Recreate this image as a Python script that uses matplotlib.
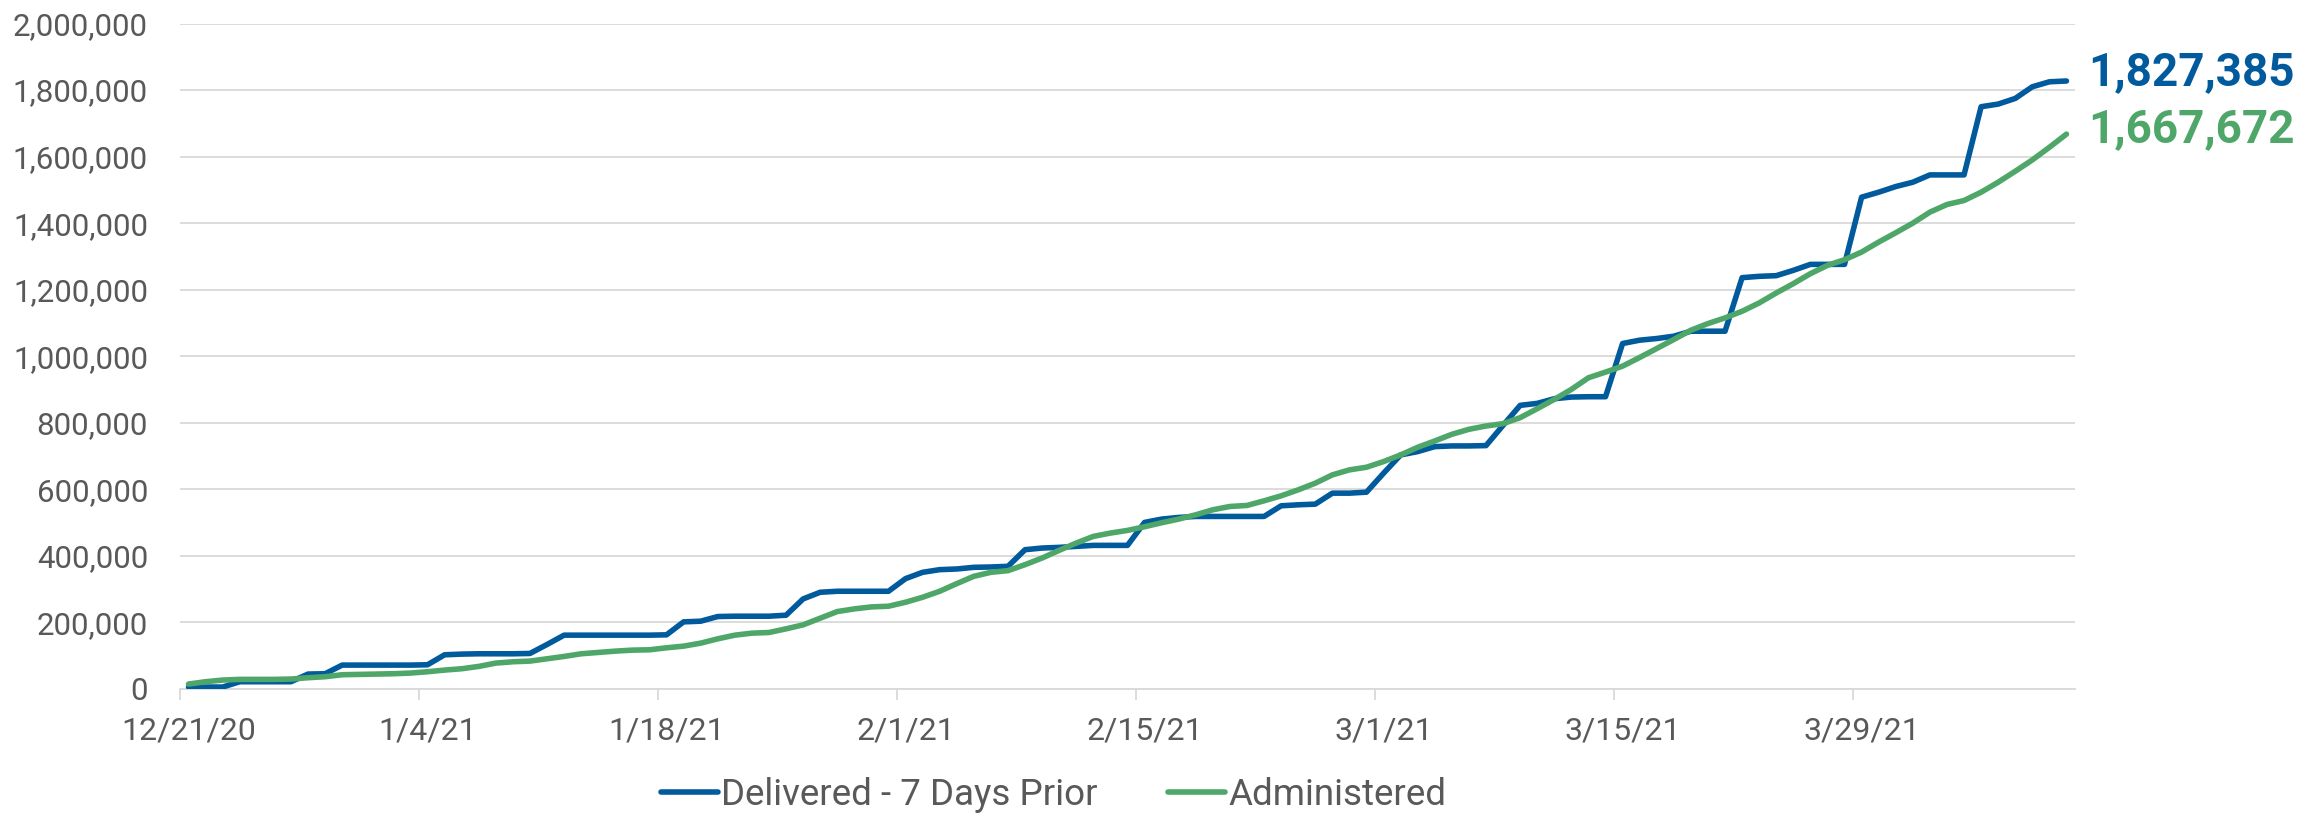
import matplotlib
matplotlib.use('Agg')
import matplotlib.pyplot as plt
import matplotlib.dates as mdates
import pandas as pd
from matplotlib.ticker import FuncFormatter, MultipleLocator

plt.rcParams['font.family'] = ['Roboto', 'DejaVu Sans']

start_date = '2020-12-21'
end_date = '2021-04-10'
tick_labels = ['12/21/20', '1/4/21', '1/18/21', '2/1/21', '2/15/21', '3/1/21', '3/15/21', '3/29/21']

delivered = [5000, 5000, 5000, 21000, 21000, 21000, 21000, 44000, 45000, 71000,
             71000, 71000, 71000, 71000, 72000, 102000, 104000, 105000, 105000, 105000,
             106000, 133000, 161000, 161000, 161000, 161000, 161000, 161000, 162000, 201000,
             203000, 217000, 218000, 218000, 218000, 221000, 270000, 290000, 293000, 293000,
             293000, 293000, 331000, 350000, 358000, 360000, 365000, 366000, 368000, 418000,
             423000, 425000, 428000, 431000, 431000, 431000, 500000, 510000, 515000, 518000,
             518000, 518000, 518000, 518000, 550000, 553000, 555000, 588000, 588000, 591000,
             648000, 703000, 713000, 728000, 730000, 730000, 731000, 792000, 852000, 858000,
             872000, 877000, 878000, 878000, 1038000, 1048000, 1053000, 1060000, 1075000, 1075000,
             1075000, 1236000, 1240000, 1242000, 1258000, 1276000, 1276000, 1276000, 1478000, 1493000,
             1510000, 1523000, 1545000, 1545000, 1545000, 1750000, 1758000, 1775000, 1810000, 1825000,
             1827385]

administered = [14000, 21000, 26000, 28000, 28000, 28000, 29000, 33000, 36000, 42000,
                43000, 44000, 45000, 47000, 51000, 56000, 60000, 67000, 77000, 81000,
                83000, 90000, 97000, 105000, 109000, 113000, 116000, 117000, 123000, 128000,
                137000, 150000, 161000, 167000, 169000, 180000, 192000, 212000, 232000, 240000,
                246000, 248000, 260000, 275000, 293000, 316000, 338000, 350000, 355000, 373000,
                393000, 416000, 438000, 458000, 468000, 476000, 487000, 499000, 510000, 523000,
                538000, 548000, 551000, 565000, 580000, 598000, 618000, 643000, 658000, 666000,
                683000, 703000, 726000, 745000, 765000, 780000, 790000, 797000, 815000, 842000,
                870000, 900000, 935000, 952000, 970000, 996000, 1023000, 1050000, 1078000, 1098000,
                1115000, 1135000, 1160000, 1190000, 1218000, 1248000, 1273000, 1290000, 1313000, 1343000,
                1371000, 1400000, 1433000, 1456000, 1468000, 1493000, 1523000, 1556000, 1590000, 1628000,
                1667672]

blue = '#005A9C'
green = '#4EA769'
grid_c = '#D9D9D9'
text_c = '#595959'

dates = pd.date_range(start_date, end_date, freq='D')
x = mdates.date2num(dates.to_pydatetime())

fig = plt.figure(figsize=(23.12, 8.15), dpi=100)
ax = fig.add_axes([180/2312, 1-688.7/815, (2075-180)/2312, (688.7-23.6)/815])

ax.plot(x, delivered, color=blue, lw=4, label='Delivered - 7 Days Prior', solid_capstyle='round', zorder=3)
ax.plot(x, administered, color=green, lw=4, label='Administered', solid_capstyle='round', zorder=3)

ax.set_xlim(x[0]-0.5, x[-1]+0.5)
ax.set_ylim(0, 2000000)

ax.yaxis.set_major_locator(MultipleLocator(200000))
ax.yaxis.set_major_formatter(FuncFormatter(lambda v, p: f'{int(v):,}'))
ax.grid(axis='y', color=grid_c, lw=1.3)
ax.set_axisbelow(True)

# labels centred on the day, tick marks on the day boundaries
label_pos = x[::14][:len(tick_labels)]
ax.set_xticks(label_pos)
ax.set_xticklabels(tick_labels)
ax.set_xticks(list(label_pos - 0.5), minor=True)
ax.tick_params(axis='x', which='major', length=0, pad=20, labelsize=23, labelcolor=text_c)
ax.tick_params(axis='x', which='minor', length=8, width=1.3, color=grid_c)
ax.tick_params(axis='y', length=0, pad=23, labelsize=22.5, labelcolor=text_c)

for s in ['top', 'right', 'left']:
    ax.spines[s].set_visible(False)
ax.spines['bottom'].set_color(grid_c)
ax.spines['bottom'].set_linewidth(1.3)

ax.annotate(f'{delivered[-1]:,}', xy=(x[-1], delivered[-1]), xytext=(22, 9),
            textcoords='offset pixels', color=blue, fontsize=33, fontweight='bold',
            va='center', ha='left', annotation_clip=False)
ax.annotate(f'{administered[-1]:,}', xy=(x[-1], administered[-1]), xytext=(22, 5),
            textcoords='offset pixels', color=green, fontsize=33, fontweight='bold',
            va='center', ha='left', annotation_clip=False)

fig.legend(loc='center', bbox_to_anchor=(0.4557, 0.025), ncol=2, frameon=False,
           fontsize=26.5, labelcolor=text_c, handlelength=1.55, handletextpad=0.1,
           columnspacing=1.9)

fig.savefig('out.png', dpi=100)
